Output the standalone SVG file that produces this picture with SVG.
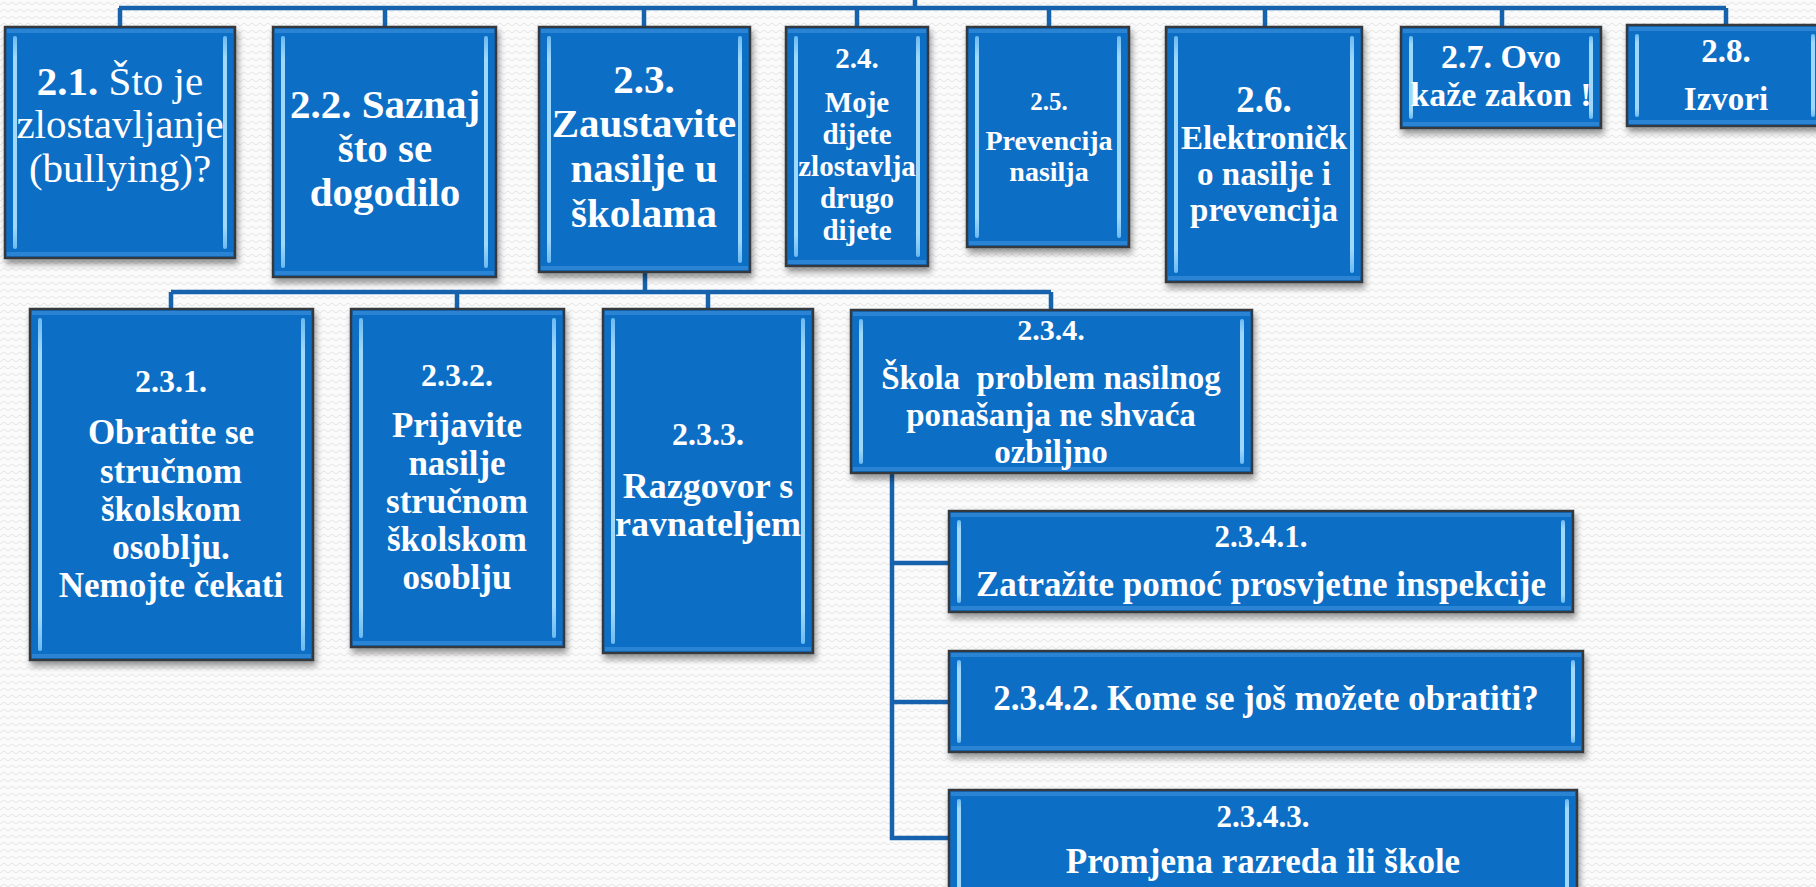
<svg xmlns="http://www.w3.org/2000/svg" width="1816" height="887" viewBox="0 0 1816 887">
<style>
.box{fill:#106ec6;stroke:#34383c;stroke-width:2.5}
.hl{fill:url(#hlg)}
.band{fill:#2a83d3}
.t{fill:#ffffff;font-family:"Liberation Serif","Times New Roman",serif;font-weight:bold;text-anchor:middle;white-space:pre}
.r{font-weight:normal}
.con{fill:none;stroke:#1762ad;stroke-width:4.5;stroke-linejoin:miter}
</style>
<defs>
<pattern id="zz" width="8" height="7" patternUnits="userSpaceOnUse">
<path d="M0,5 L4,2 L8,5" fill="none" stroke="#e4e4e4" stroke-width="1"/>
</pattern>
<linearGradient id="hlg" x1="0" y1="0" x2="0" y2="1">
<stop offset="0" stop-color="#6cbaf2"/>
<stop offset="0.1" stop-color="#9ed8fb"/>
<stop offset="0.9" stop-color="#9ed8fb"/>
<stop offset="1" stop-color="#6cbaf2"/>
</linearGradient>
<filter id="sh" x="-10%" y="-10%" width="125%" height="125%">
<feDropShadow dx="2" dy="5" stdDeviation="3" flood-color="#000" flood-opacity="0.4"/>
</filter>
</defs>
<rect width="1816" height="887" fill="#fbfbfb"/>
<rect width="1816" height="887" fill="url(#zz)"/>

<g id="connectors">
<path class="con" d="M915,0 V8 M119,8 H1726 M120,8 V27 M385,8 V27 M644,8 V27 M857,8 V27 M1049,8 V27 M1265,8 V27 M1502,8 V27 M1726,8 V25"/>
<path class="con" d="M645,272 V292 M171,292 H1051 M171,292 V309 M457,292 V309 M708,292 V309 M1051,292 V310"/>
<path class="con" d="M892,473 V838 H949 M892,563 H949 M892,702 H949"/>
</g>

<g id="n2_1">
<rect class="box" x="5" y="27" width="230" height="231" filter="url(#sh)"/>
<rect class="band" x="7" y="29" width="226" height="4"/><rect class="band" x="7" y="252" width="226" height="4"/>
<rect class="hl" x="13" y="36" width="4" height="213" rx="2"/><rect class="hl" x="223" y="36" width="4" height="213" rx="2"/>
<text class="t" font-size="41" x="120"><tspan x="120" y="95">2.1. <tspan class="r">Što je</tspan></tspan><tspan class="r" x="120" y="138">zlostavljanje</tspan><tspan class="r" x="120" y="182">(bullying)?</tspan></text>
</g>

<g id="n2_2">
<rect class="box" x="273" y="27" width="223" height="250" filter="url(#sh)"/>
<rect class="band" x="275" y="29" width="219" height="4"/><rect class="band" x="275" y="271" width="219" height="4"/>
<rect class="hl" x="281" y="36" width="4" height="232" rx="2"/><rect class="hl" x="484" y="36" width="4" height="232" rx="2"/>
<text class="t" font-size="41"><tspan x="385" y="118">2.2. Saznaj</tspan><tspan x="385" y="162">što se</tspan><tspan x="385" y="206">dogodilo</tspan></text>
</g>

<g id="n2_3">
<rect class="box" x="539" y="27" width="211" height="245" filter="url(#sh)"/>
<rect class="band" x="541" y="29" width="207" height="4"/><rect class="band" x="541" y="266" width="207" height="4"/>
<rect class="hl" x="547" y="36" width="4" height="227" rx="2"/><rect class="hl" x="738" y="36" width="4" height="227" rx="2"/>
<text class="t" font-size="41"><tspan x="644" y="93">2.3.</tspan><tspan x="644" y="137">Zaustavite</tspan><tspan x="644" y="182">nasilje u</tspan><tspan x="644" y="227">školama</tspan></text>
</g>

<g id="n2_4">
<rect class="box" x="786" y="27" width="142" height="239" filter="url(#sh)"/>
<rect class="band" x="788" y="29" width="138" height="4"/><rect class="band" x="788" y="260" width="138" height="4"/>
<rect class="hl" x="794" y="36" width="4" height="221" rx="2"/><rect class="hl" x="916" y="36" width="4" height="221" rx="2"/>
<text class="t" font-size="29"><tspan x="857" y="68">2.4.</tspan><tspan x="857" y="112">Moje</tspan><tspan x="857" y="144">dijete</tspan><tspan x="857" y="176">zlostavlja</tspan><tspan x="857" y="208">drugo</tspan><tspan x="857" y="240">dijete</tspan></text>
</g>

<g id="n2_5">
<rect class="box" x="967" y="27" width="162" height="220" filter="url(#sh)"/>
<rect class="band" x="969" y="29" width="158" height="4"/><rect class="band" x="969" y="241" width="158" height="4"/>
<rect class="hl" x="975" y="36" width="4" height="202" rx="2"/><rect class="hl" x="1117" y="36" width="4" height="202" rx="2"/>
<text class="t" font-size="28"><tspan x="1049" y="110" font-size="25">2.5.</tspan><tspan x="1049" y="150">Prevencija</tspan><tspan x="1049" y="181">nasilja</tspan></text>
</g>

<g id="n2_6">
<rect class="box" x="1166" y="27" width="196" height="255" filter="url(#sh)"/>
<rect class="band" x="1168" y="29" width="192" height="4"/><rect class="band" x="1168" y="276" width="192" height="4"/>
<rect class="hl" x="1174" y="36" width="4" height="237" rx="2"/><rect class="hl" x="1350" y="36" width="4" height="237" rx="2"/>
<text class="t" font-size="33"><tspan x="1264" y="112" font-size="37">2.6.</tspan><tspan x="1264" y="149">Elektroničk</tspan><tspan x="1264" y="185">o nasilje i</tspan><tspan x="1264" y="221">prevencija</tspan></text>
</g>

<g id="n2_7">
<rect class="box" x="1401" y="27" width="200" height="101" filter="url(#sh)"/>
<rect class="band" x="1403" y="29" width="196" height="4"/><rect class="band" x="1403" y="122" width="196" height="4"/>
<rect class="hl" x="1409" y="36" width="4" height="83" rx="2"/><rect class="hl" x="1589" y="36" width="4" height="83" rx="2"/>
<text class="t" font-size="34"><tspan x="1501" y="68">2.7. Ovo</tspan><tspan x="1501" y="106">kaže zakon !</tspan></text>
</g>

<g id="n2_8">
<rect class="box" x="1627" y="25" width="198" height="101" filter="url(#sh)"/>
<rect class="band" x="1629" y="27" width="194" height="4"/><rect class="band" x="1629" y="120" width="194" height="4"/>
<rect class="hl" x="1635" y="34" width="4" height="83" rx="2"/><rect class="hl" x="1811" y="34" width="4" height="83" rx="2"/>
<text class="t" font-size="33"><tspan x="1726" y="62">2.8.</tspan><tspan x="1726" y="110">Izvori</tspan></text>
</g>

<g id="n2_3_1">
<rect class="box" x="30" y="309" width="283" height="351" filter="url(#sh)"/>
<rect class="band" x="32" y="311" width="279" height="4"/><rect class="band" x="32" y="654" width="279" height="4"/>
<rect class="hl" x="38" y="318" width="4" height="333" rx="2"/><rect class="hl" x="301" y="318" width="4" height="333" rx="2"/>
<text class="t" font-size="35"><tspan x="171" y="392" font-size="32">2.3.1.</tspan><tspan x="171" y="444">Obratite se</tspan><tspan x="171" y="483">stručnom</tspan><tspan x="171" y="521">školskom</tspan><tspan x="171" y="559">osoblju.</tspan><tspan x="171" y="597">Nemojte čekati</tspan></text>
</g>

<g id="n2_3_2">
<rect class="box" x="351" y="309" width="213" height="338" filter="url(#sh)"/>
<rect class="band" x="353" y="311" width="209" height="4"/><rect class="band" x="353" y="641" width="209" height="4"/>
<rect class="hl" x="359" y="318" width="4" height="320" rx="2"/><rect class="hl" x="552" y="318" width="4" height="320" rx="2"/>
<text class="t" font-size="35"><tspan x="457" y="386" font-size="32">2.3.2.</tspan><tspan x="457" y="437">Prijavite</tspan><tspan x="457" y="475">nasilje</tspan><tspan x="457" y="513">stručnom</tspan><tspan x="457" y="551">školskom</tspan><tspan x="457" y="589">osoblju</tspan></text>
</g>

<g id="n2_3_3">
<rect class="box" x="603" y="309" width="210" height="344" filter="url(#sh)"/>
<rect class="band" x="605" y="311" width="206" height="4"/><rect class="band" x="605" y="647" width="206" height="4"/>
<rect class="hl" x="611" y="318" width="4" height="326" rx="2"/><rect class="hl" x="801" y="318" width="4" height="326" rx="2"/>
<text class="t" font-size="36"><tspan x="708" y="445" font-size="32">2.3.3.</tspan><tspan x="708" y="498">Razgovor s</tspan><tspan x="708" y="536">ravnateljem</tspan></text>
</g>

<g id="n2_3_4">
<rect class="box" x="851" y="310" width="401" height="163" filter="url(#sh)"/>
<rect class="band" x="853" y="312" width="397" height="4"/><rect class="band" x="853" y="467" width="397" height="4"/>
<rect class="hl" x="859" y="319" width="4" height="145" rx="2"/><rect class="hl" x="1240" y="319" width="4" height="145" rx="2"/>
<text class="t" font-size="33"><tspan x="1051" y="340" font-size="30">2.3.4.</tspan><tspan x="1051" y="389">Škola  problem nasilnog</tspan><tspan x="1051" y="426">ponašanja ne shvaća</tspan><tspan x="1051" y="463">ozbiljno</tspan></text>
</g>

<g id="n2_3_4_1">
<rect class="box" x="949" y="511" width="624" height="101" filter="url(#sh)"/>
<rect class="band" x="951" y="513" width="620" height="4"/><rect class="band" x="951" y="606" width="620" height="4"/>
<rect class="hl" x="957" y="520" width="4" height="83" rx="2"/><rect class="hl" x="1561" y="520" width="4" height="83" rx="2"/>
<text class="t" font-size="35"><tspan x="1261" y="547" font-size="31">2.3.4.1.</tspan><tspan x="1261" y="596">Zatražite pomoć prosvjetne inspekcije</tspan></text>
</g>

<g id="n2_3_4_2">
<rect class="box" x="949" y="651" width="634" height="101" filter="url(#sh)"/>
<rect class="band" x="951" y="653" width="630" height="4"/><rect class="band" x="951" y="746" width="630" height="4"/>
<rect class="hl" x="957" y="660" width="4" height="83" rx="2"/><rect class="hl" x="1571" y="660" width="4" height="83" rx="2"/>
<text class="t" font-size="35" x="1266" y="710">2.3.4.2. Kome se još možete obratiti?</text>
</g>

<g id="n2_3_4_3">
<rect class="box" x="949" y="790" width="628" height="112" filter="url(#sh)"/>
<rect class="band" x="951" y="792" width="624" height="4"/>
<rect class="hl" x="957" y="799" width="4" height="100" rx="2"/><rect class="hl" x="1565" y="799" width="4" height="100" rx="2"/>
<text class="t" font-size="35"><tspan x="1263" y="827" font-size="31">2.3.4.3.</tspan><tspan x="1263" y="873">Promjena razreda ili škole</tspan></text>
</g>
</svg>
